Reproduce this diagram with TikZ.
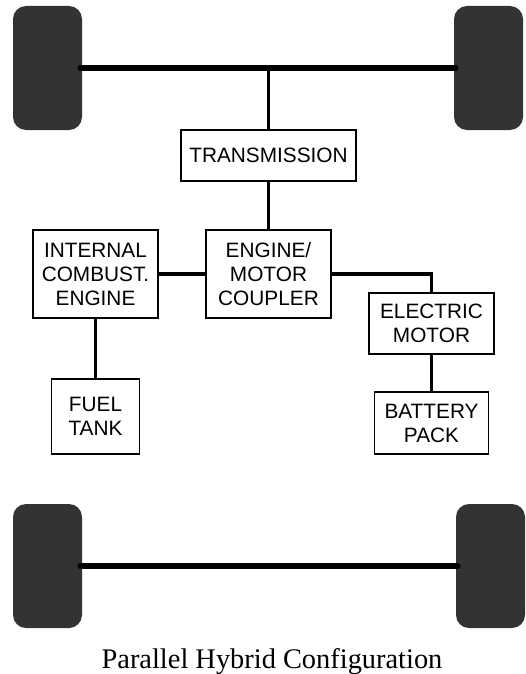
\documentclass[tikz,border=0pt]{standalone}
\usepackage{fontspec}
\setmainfont{Liberation Sans}
\newfontfamily\capfont{Liberation Serif}
\begin{document}
\begin{tikzpicture}[x=1pt,y=-1pt,
  blk/.style={draw=black, line width=1.7pt, inner sep=0pt, align=center,
    font=\fontsize{20.8}{24}\selectfont},
  wheel/.style={fill=black!80, draw=none, rounded corners=13pt, inner sep=0pt,
    minimum width=69pt, minimum height=124pt},
  link/.style={line width=3.8pt},
  axle/.style={line width=5.5pt, line cap=round}]
\useasboundingbox (0,0) rectangle (525,674);
% wheels
\node[wheel] (wTL) at (47.5,68) {};
\node[wheel] (wTR) at (488.5,68) {};
\node[wheel] (wBL) at (47.5,566) {};
\node[wheel] (wBR) at (490.5,566) {};
% axles
\draw[axle] ([xshift=-2pt]wTL.east) -- ([xshift=2pt]wTR.west);
\draw[axle] ([xshift=-2pt]wBL.east) -- ([xshift=2pt]wBR.west);
% blocks
\node[blk, minimum width=175pt, minimum height=51pt] (trans) at (268.5,155.5) {TRANSMISSION};
\node[blk, minimum width=125pt, minimum height=88pt] (coup) at (268.5,274) {ENGINE/\\MOTOR\\COUPLER};
\node[blk, minimum width=125pt, minimum height=88pt] (ice) at (95.5,274) {INTERNAL\\COMBUST.\\ENGINE};
\node[blk, minimum width=125pt, minimum height=61pt] (em) at (431.5,323.5) {ELECTRIC\\MOTOR};
\node[blk, minimum width=114pt, minimum height=62pt] (batt) at (431.5,423) {BATTERY\\PACK};
\node[blk, minimum width=88pt, minimum height=75pt] (fuel) at (95.5,416.5) {FUEL\\TANK};
% connectors
\draw[link] (trans.north) -- (trans.north |- wTL.east);
\draw[link] (trans.south) -- (coup.north);
\draw[link] (ice.east) -- (coup.west);
\draw[link] (coup.east) -| (em.north);
\draw[link] (em.south) -- (batt.north);
\draw[link] (ice.south) -- (fuel.north);
% caption
\node[font=\capfont\fontsize{28.4}{32}\selectfont, anchor=base] (cap) at (272,668) {Parallel Hybrid Configuration};
\end{tikzpicture}
\end{document}
